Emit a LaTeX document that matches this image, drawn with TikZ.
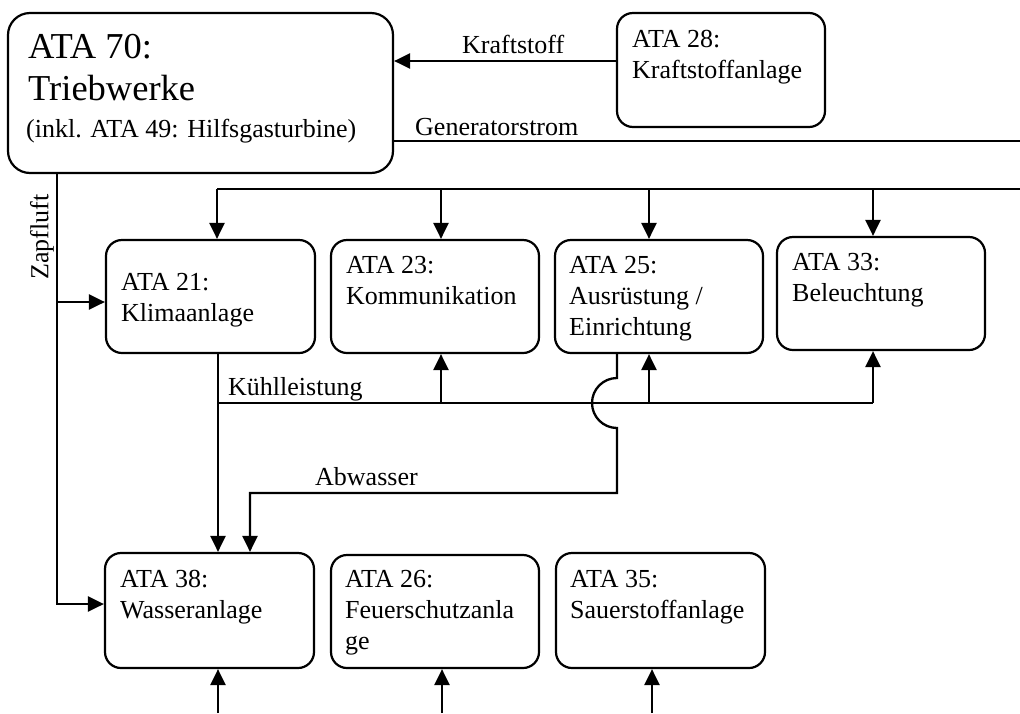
\documentclass[tikz,border=0pt]{standalone}
\usepackage{fontspec}
\setmainfont{Liberation Serif}
\usetikzlibrary{arrows.meta}
\tikzset{
  box/.style={draw, line width=2.2pt, rounded corners=16pt, inner sep=0pt},
  txt/.style={anchor=base west, inner sep=0pt, font=\fontsize{26}{31}\selectfont},
  bigtxt/.style={anchor=base west, inner sep=0pt, font=\fontsize{36.5}{42}\selectfont},
  conn/.style={line width=2.3pt},
  arr/.style={line width=2.3pt, -{Triangle[length=16pt 0 0,width=15pt 0 0]}}
}
\begin{document}
\begin{tikzpicture}[x=1pt,y=-1pt]
\useasboundingbox (0,0) rectangle (1020,713);
% boxes
\node[box, rounded corners=22pt, minimum width=385pt, minimum height=160pt] (b70) at (200.5,93) {};
\node[box, minimum width=208pt, minimum height=114pt] (b28) at (721,70) {};
\node[box, minimum width=209pt, minimum height=113pt] (b21) at (210.5,296.5) {};
\node[box, minimum width=208pt, minimum height=113pt] (b23) at (435,296.5) {};
\node[box, minimum width=208pt, minimum height=113pt] (b25) at (659,296.5) {};
\node[box, minimum width=208pt, minimum height=113pt] (b33) at (881,293.5) {};
\node[box, minimum width=209pt, minimum height=115pt] (b38) at (209.5,610.5) {};
\node[box, minimum width=208pt, minimum height=113pt] (b26) at (435,611.5) {};
\node[box, minimum width=209pt, minimum height=115pt] (b35) at (660.5,610.5) {};
% texts
\node[bigtxt] (t70a) at (28,58) {ATA 70:};
\node[bigtxt] (t70b) at (28,100) {Triebwerke};
\node[txt] (t70c) at (26,137) {(inkl. ATA 49: Hilfsgasturbine)};
\node[txt] (t28) at (632,47) {\begin{tabular}[t]{@{}l@{}}ATA 28:\\Kraftstoffanlage\end{tabular}};
\node[txt] (t21) at (121,290) {\begin{tabular}[t]{@{}l@{}}ATA 21:\\Klimaanlage\end{tabular}};
\node[txt] (t23) at (346,273) {\begin{tabular}[t]{@{}l@{}}ATA 23:\\Kommunikation\end{tabular}};
\node[txt] (t25) at (569,273) {\begin{tabular}[t]{@{}l@{}}ATA 25:\\Ausrüstung /\\Einrichtung\end{tabular}};
\node[txt] (t33) at (792,270) {\begin{tabular}[t]{@{}l@{}}ATA 33:\\Beleuchtung\end{tabular}};
\node[txt] (t38) at (120,587) {\begin{tabular}[t]{@{}l@{}}ATA 38:\\Wasseranlage\end{tabular}};
\node[txt] (t26) at (345,587) {\begin{tabular}[t]{@{}l@{}}ATA 26:\\Feuerschutzanla\\ge\end{tabular}};
\node[txt] (t35) at (570,587) {\begin{tabular}[t]{@{}l@{}}ATA 35:\\Sauerstoffanlage\end{tabular}};
% connector labels
\node[txt] (lkf) at (462,53) {Kraftstoff};
\node[txt] (lgs) at (415,135) {Generatorstrom};
\node[txt] (lkl) at (228,395) {Kühlleistung};
\node[txt] (law) at (315,485) {Abwasser};
\node[inner sep=0pt, font=\fontsize{26}{31}\selectfont, rotate=90] (lzf) at (42,237) {Zapfluft};
% coordinates
\coordinate (kf) at (0,61);
\coordinate (gR) at (1020,141);
\coordinate (busL) at (217,189);
\coordinate (busR) at (1020,189);
\coordinate (d23) at (441,189);
\coordinate (d25) at (649,189);
\coordinate (d33) at (873,189);
\coordinate (kx) at (218,403);
\coordinate (k23) at (441,403);
\coordinate (k25) at (649,403);
\coordinate (k33) at (873,403);
\coordinate (jt) at (617,378);
\coordinate (jb) at (617,428);
\coordinate (aw) at (617,493);
\coordinate (ab) at (250,493);
\coordinate (zx) at (57,604);
\coordinate (z21) at (57,302);
\coordinate (u38) at (218,713);
\coordinate (u26) at (442,713);
\coordinate (u35) at (652,713);
% Kraftstoff
\draw[arr] (b28.west |- kf) -- (b70.east |- kf);
% Generatorstrom
\draw[conn] (b70.east |- gR) -- (gR);
% bus
\draw[conn] (busL) -- (busR);
\draw[arr] (busL) -- (busL |- b21.north);
\draw[arr] (d23) -- (d23 |- b23.north);
\draw[arr] (d25) -- (d25 |- b25.north);
\draw[arr] (d33) -- (d33 |- b33.north);
% Kuehlleistung
\draw[arr] (b21.south -| kx) -- (b38.north -| kx);
\draw[conn] (kx) -- (k33);
\draw[arr] (k23) -- (k23 |- b23.south);
\draw[arr] (k25) -- (k25 |- b25.south);
\draw[arr] (k33) -- (k33 |- b33.south);
% Abwasser with jump
\draw[arr, line join=miter] (b25.south -| jt) -- (jt)
  .. controls (603.2,378) and (592,389.2) .. (592,403)
  .. controls (592,416.8) and (603.2,428) .. (jb)
  -- (aw) -- (ab) -- (b38.north -| ab);
% Zapfluft
\draw[arr] (b70.south -| zx) -- (zx) -- (b38.west |- zx);
\draw[arr] (z21) -- (b21.west |- z21);
% bottom inputs
\draw[arr] (u38) -- (u38 |- b38.south);
\draw[arr] (u26) -- (u26 |- b26.south);
\draw[arr] (u35) -- (u35 |- b35.south);
\end{tikzpicture}
\end{document}
